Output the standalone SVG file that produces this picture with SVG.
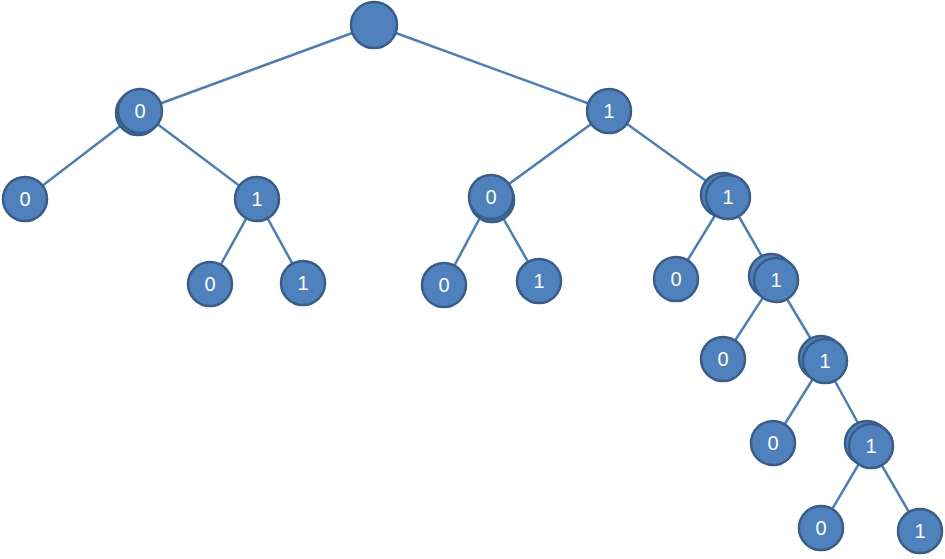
<svg xmlns="http://www.w3.org/2000/svg" width="945" height="559" viewBox="0 0 945 559">
<style>
.n{fill:#4f81bd;stroke:#385d8a;stroke-width:2.5}
.t{fill:#ffffff;font-family:"Liberation Sans",Arial,sans-serif;font-size:20px;text-anchor:middle;dominant-baseline:central}
.e{stroke:#4a7ebb;stroke-width:2.5;fill:none}
</style>
<rect width="945" height="559" fill="#ffffff"/>
<g id="connectors">
<line class="e" x1="374" y1="25" x2="140" y2="111"/>
<line class="e" x1="374" y1="25" x2="609" y2="111"/>
<line class="e" x1="140" y1="111" x2="25" y2="199"/>
<line class="e" x1="140" y1="111" x2="257" y2="199"/>
<line class="e" x1="257" y1="199" x2="210" y2="284"/>
<line class="e" x1="257" y1="199" x2="303" y2="283"/>
<line class="e" x1="609" y1="111" x2="491" y2="197"/>
<line class="e" x1="609" y1="111" x2="727" y2="196"/>
<line class="e" x1="491" y1="197" x2="444" y2="285"/>
<line class="e" x1="491" y1="197" x2="539" y2="281"/>
<line class="e" x1="727" y1="196" x2="676" y2="279"/>
<line class="e" x1="727" y1="196" x2="775" y2="279"/>
<line class="e" x1="775" y1="279" x2="723" y2="359"/>
<line class="e" x1="775" y1="279" x2="824" y2="361"/>
<line class="e" x1="824" y1="361" x2="773" y2="443"/>
<line class="e" x1="824" y1="361" x2="870" y2="445"/>
<line class="e" x1="870" y1="445" x2="821" y2="528"/>
<line class="e" x1="870" y1="445" x2="920" y2="531"/>
</g>
<g id="root"><circle class="n" cx="374" cy="25" r="23"/></g>
<g id="n0"><circle class="n" cx="138" cy="113" r="22"/><circle class="n" cx="140" cy="111" r="22"/><text class="t" x="140" y="111">0</text></g>
<g id="n1"><circle class="n" cx="609" cy="111" r="22"/><text class="t" x="609" y="111">1</text></g>
<g id="n00"><circle class="n" cx="25" cy="199" r="22"/><text class="t" x="25" y="199">0</text></g>
<g id="n01"><circle class="n" cx="257" cy="199" r="22"/><text class="t" x="257" y="199">1</text></g>
<g id="n010"><circle class="n" cx="210" cy="284" r="22"/><text class="t" x="210" y="284">0</text></g>
<g id="n011"><circle class="n" cx="303" cy="283" r="22"/><text class="t" x="303" y="283">1</text></g>
<g id="n10"><circle class="n" cx="492" cy="200" r="22"/><circle class="n" cx="491" cy="197" r="22"/><text class="t" x="491" y="197">0</text></g>
<g id="n100"><circle class="n" cx="444" cy="285" r="22"/><text class="t" x="444" y="285">0</text></g>
<g id="n101"><circle class="n" cx="539" cy="281" r="22"/><text class="t" x="539" y="281">1</text></g>
<g id="n11"><circle class="n" cx="723" cy="195" r="22"/><circle class="n" cx="728" cy="197" r="22"/><text class="t" x="728" y="197">1</text></g>
<g id="n110"><circle class="n" cx="676" cy="279" r="22"/><text class="t" x="676" y="279">0</text></g>
<g id="n111"><circle class="n" cx="771" cy="276" r="22"/><circle class="n" cx="776" cy="280" r="22"/><text class="t" x="776" y="280">1</text></g>
<g id="n1110"><circle class="n" cx="723" cy="359" r="22"/><text class="t" x="723" y="359">0</text></g>
<g id="n1111"><circle class="n" cx="821" cy="358" r="22"/><circle class="n" cx="825" cy="361" r="22"/><text class="t" x="825" y="361">1</text></g>
<g id="n11110"><circle class="n" cx="773" cy="443" r="22"/><text class="t" x="773" y="443">0</text></g>
<g id="n11111"><circle class="n" cx="867" cy="443" r="22"/><circle class="n" cx="871" cy="446" r="22"/><text class="t" x="871" y="446">1</text></g>
<g id="n111110"><circle class="n" cx="821" cy="528" r="22"/><text class="t" x="821" y="528">0</text></g>
<g id="n111111"><circle class="n" cx="920" cy="531" r="22"/><text class="t" x="920" y="531">1</text></g>
</svg>
